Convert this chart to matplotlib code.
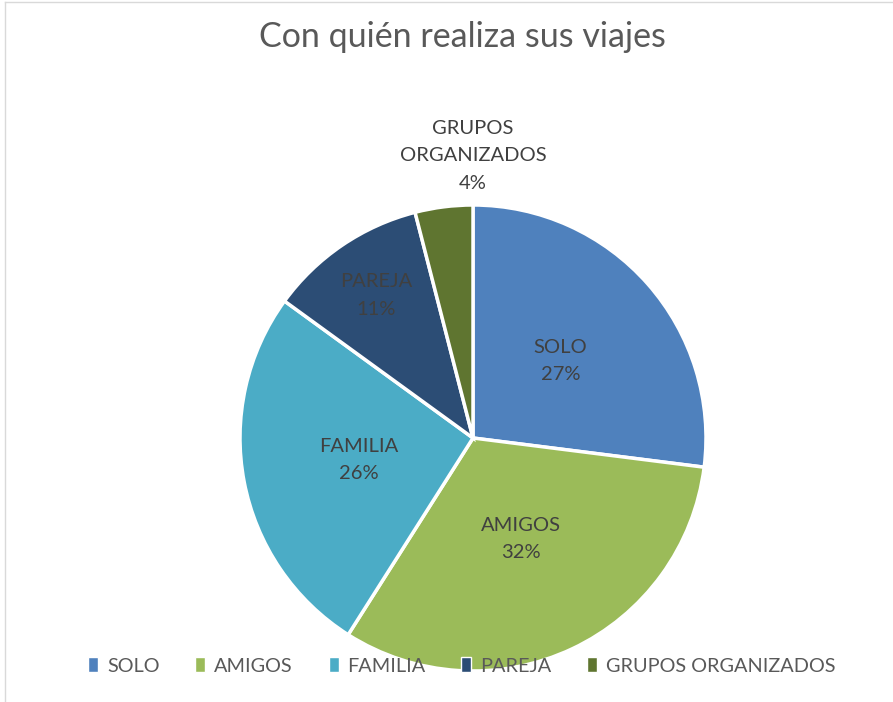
import numpy as np
import matplotlib.pyplot as plt
from matplotlib.patches import Rectangle
from matplotlib.lines import Line2D

categories = ["SOLO", "AMIGOS", "FAMILIA", "PAREJA", "GRUPOS ORGANIZADOS"]
label_lines = ["SOLO", "AMIGOS", "FAMILIA", "PAREJA", "GRUPOS\nORGANIZADOS"]
values = [27, 32, 26, 11, 4]
colors = ["#4F81BD", "#9BBB59", "#4BACC6", "#2C4D75", "#5F7530"]
label_dist = [0.5, 0.48, 0.5, 0.74, 1.22]

plt.rcParams["font.family"] = ["Lato", "DejaVu Sans"]
text_color = "#404040"

fig = plt.figure(figsize=(8.93, 7.02), dpi=100)
W, H = 893, 702
cx, cy, r = 473, 438, 233
ax = fig.add_axes([(cx - r) / W, (H - cy - r) / H, 2 * r / W, 2 * r / H])

wedges, _ = ax.pie(values, colors=colors, startangle=90, counterclock=False,
                   radius=1, wedgeprops=dict(edgecolor="white", linewidth=2.5))
ax.set_xlim(-1, 1)
ax.set_ylim(-1, 1)
ax.set_aspect("equal")
ax.axis("off")

total = sum(values)
start = 90.0
for lab, v, d in zip(label_lines, values, label_dist):
    span = 360.0 * v / total
    mid = np.deg2rad(start - span / 2)
    start -= span
    x, y = d * np.cos(mid), d * np.sin(mid)
    if "\n" in lab:
        x = 0.0
    ax.text(x, y, f"{lab}\n{v}%", ha="center", va="center", fontsize=14.5,
            color=text_color, linespacing=1.75)

fig.text(462 / W, 1 - 37 / H, "Con quién realiza sus viajes", ha="center", va="center",
         fontsize=24.5, color="#595959")

handles = [Rectangle((0, 0), 1, 1, facecolor=c, edgecolor="white") for c in colors]
fig.legend(handles, categories, loc="center", bbox_to_anchor=(462 / W, 1 - 666 / H),
           ncol=5, frameon=False, fontsize=14.3, handlelength=0.5, handleheight=0.75,
           columnspacing=1.8, handletextpad=0.45, labelcolor="#595959")

# chart frame (left and top edges only visible)
fig.add_artist(Line2D([5 / W, 5 / W], [0, 1 - 2 / H], transform=fig.transFigure,
                      color="#D9D9D9", linewidth=1))
fig.add_artist(Line2D([5 / W, 1], [1 - 2 / H, 1 - 2 / H], transform=fig.transFigure,
                      color="#D9D9D9", linewidth=1))

fig.savefig("out.png", dpi=100)
